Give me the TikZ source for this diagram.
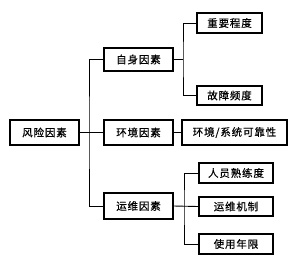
\documentclass[tikz,border=0pt]{standalone}
\usepackage{fontspec}
\newfontfamily\cjk[LetterSpace=8,FakeBold=0.6]{Noto Sans CJK SC}
\begin{document}
\begin{tikzpicture}[x=1pt,y=-1pt,
  box/.style={draw=black,line width=1.3pt,inner sep=0pt,font=\cjk\fontsize{10.5pt}{12pt}\selectfont,anchor=center},
  conn/.style={draw=black,line width=0.9pt}]
\useasboundingbox (0,0) rectangle (296,263);
\node[box,minimum width=69pt,minimum height=25pt] (risk) at (44.5,132.5) {风险因素};
\node[box,minimum width=69pt,minimum height=23pt] (self) at (138.5,59.5) {自身因素};
\node[box,minimum width=69pt,minimum height=25pt] (env) at (138.5,132.5) {环境因素};
\node[box,minimum width=69pt,minimum height=26pt] (ops) at (138.5,206) {运维因素};
\node[box,minimum width=65pt,minimum height=20pt] (imp) at (229.5,23) {重要程度};
\node[box,minimum width=65pt,minimum height=19pt] (fault) at (229.5,95.5) {故障频度};
\node[box,minimum width=105pt,minimum height=25pt] (rel) at (234.5,132.5) {环境/系统可靠性};
\node[box,minimum width=74pt,minimum height=20pt] (staff) at (236,173) {人员熟练度};
\node[box,minimum width=74pt,minimum height=19pt] (mech) at (236,206.5) {运维机制};
\node[box,minimum width=74pt,minimum height=20pt] (life) at (236,244) {使用年限};
\coordinate (tk) at (89,132.5);
\coordinate (b1) at (183,59.5);
\coordinate (b2) at (184,206);
\draw[conn] (self.west) -| (tk) |- (ops.west);
\draw[conn] (risk.east) -- (env.west);
\draw[conn] (env.east) -- (rel.west);
\draw[conn] (self.east) -- (b1);
\draw[conn] (imp.west) -| (b1) |- (fault.west);
\draw[conn] (ops.east) -- (mech.west);
\draw[conn] (staff.west) -| (b2) |- (life.west);
\end{tikzpicture}
\end{document}
